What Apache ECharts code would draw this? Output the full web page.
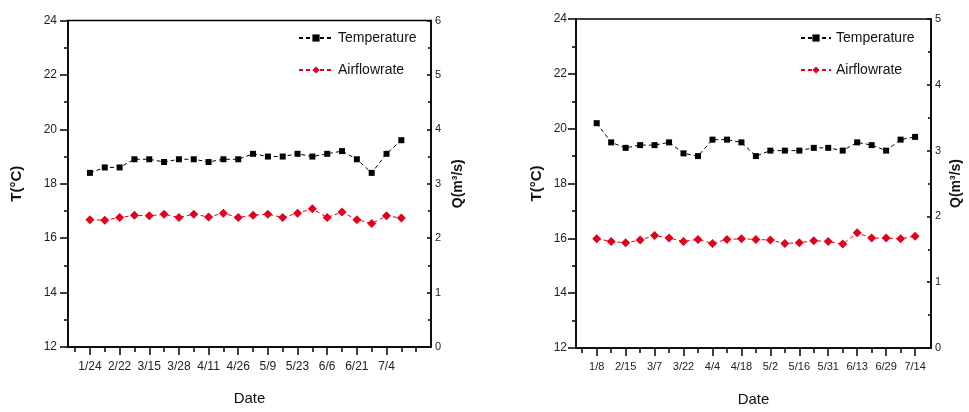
<!DOCTYPE html>
<html>
<head>
<meta charset="utf-8">
<script src="https://cdn.jsdelivr.net/npm/echarts@6/dist/echarts.min.js"></script>
<style>
html,body{margin:0;padding:0;background:#fff;}
#c{width:969px;height:412px;}
</style>
</head>
<body>
<div id="c"></div>
<script>
// ---- Left panel data ----
const leftTickLabels = ['1/24','2/22','3/15','3/28','4/11','4/26','5/9','5/23','6/6','6/21','7/4'];
const leftTemp = [18.4, 18.6, 18.6, 18.9, 18.9, 18.8, 18.9, 18.9, 18.8, 18.9, 18.9,
                  19.1, 19.0, 19.0, 19.1, 19.0, 19.1, 19.2, 18.9, 18.4, 19.1, 19.6];
const leftFlow = [2.34, 2.33, 2.38, 2.42, 2.41, 2.44, 2.38, 2.44, 2.39, 2.46, 2.38,
                  2.42, 2.44, 2.38, 2.46, 2.54, 2.38, 2.48, 2.34, 2.27, 2.41, 2.37];
// ---- Right panel data ----
const rightTickLabels = ['1/8','2/15','3/7','3/22','4/4','4/18','5/2','5/16','5/31','6/13','6/29','7/14'];
const rightTemp = [20.2, 19.5, 19.3, 19.4, 19.4, 19.5, 19.1, 19.0, 19.6, 19.6, 19.5, 19.0,
                   19.2, 19.2, 19.2, 19.3, 19.3, 19.2, 19.5, 19.4, 19.2, 19.6, 19.7];
const rightFlow = [1.66, 1.62, 1.60, 1.64, 1.71, 1.67, 1.62, 1.65, 1.59, 1.65, 1.66, 1.65,
                   1.64, 1.59, 1.60, 1.63, 1.62, 1.58, 1.75, 1.67, 1.67, 1.66, 1.70];
const tempTicks = [12, 14, 16, 18, 20, 22, 24];
const leftFlowMax = 6;
const rightFlowMax = 5;

const FONT = 'Liberation Sans, Arial, sans-serif';
const RED = '#e3001b';

function pairs(arr){ return arr.map((v,i)=>[i,v]); }
function range(a,b,step){ const r=[]; for(let v=a; v<=b; v+=step) r.push(v); return r; }

function xAxes(gridIndex, min, max, n, labels, fontSize, margin){
  const majors = labels.map((_,k)=>2*k);
  const minors = range(-1, n, 1).filter(v => majors.indexOf(v) < 0);
  return [
    {
      type:'value', gridIndex, min, max, position:'bottom',
      name:'Date', nameLocation:'middle', nameGap:44,
      nameTextStyle:{fontFamily:FONT, fontSize:15, color:'#111'},
      axisLine:{show:true, onZero:false, lineStyle:{color:'#000', width:1.5}},
      axisTick:{show:true, inside:false, length:8, customValues:majors, lineStyle:{color:'#000', width:1.5}},
      axisLabel:{show:true, customValues:majors, margin, fontFamily:FONT, fontSize, color:'#222',
                 formatter:(v)=>labels[Math.round(v/2)] || ''},
      splitLine:{show:false}
    },
    {
      type:'value', gridIndex, min, max, position:'bottom',
      axisLine:{show:false, onZero:false},
      axisTick:{show:true, inside:false, length:5, customValues:minors, lineStyle:{color:'#000', width:1.5}},
      axisLabel:{show:false},
      splitLine:{show:false}
    }
  ];
}

function yAxes(gridIndex, flowMax, tGap, qGap, lblMargin){
  return [
    {
      type:'value', gridIndex, position:'left', min:12, max:24, interval:2,
      name:'T(°C)', nameLocation:'middle', nameGap:tGap, nameRotate:90,
      nameTextStyle:{fontFamily:FONT, fontSize:15, fontWeight:'bold', color:'#111'},
      axisLine:{show:true, onZero:false, lineStyle:{color:'#000', width:1.5}},
      axisTick:{show:true, inside:false, length:8, lineStyle:{color:'#000', width:1.5}},
      minorTick:{show:true, splitNumber:2, length:4, lineStyle:{color:'#000', width:1.5}},
      axisLabel:{margin:lblMargin, fontFamily:FONT, fontSize:12, color:'#222', formatter:(v)=> tempTicks.indexOf(v)>=0 ? String(v) : ''},
      splitLine:{show:false}
    },
    {
      type:'value', gridIndex, position:'right', min:0, max:flowMax, interval:1,
      name:'Q(m³/s)', nameLocation:'middle', nameGap:qGap, nameRotate:90,
      nameTextStyle:{fontFamily:FONT, fontSize:14, fontWeight:'bold', color:'#111'},
      axisLine:{show:true, onZero:false, lineStyle:{color:'#000', width:1.5}},
      axisTick:{show:true, inside:true, length:4, lineStyle:{color:'#000', width:1.5}},
      minorTick:{show:true, splitNumber:2, length:3, lineStyle:{color:'#000', width:1.5}},
      axisLabel:{margin:4, fontFamily:FONT, fontSize:11, color:'#222'},
      splitLine:{show:false}
    }
  ];
}

function seriesFor(xIdx, yBase, temp, flow){
  return [
    {
      name:'Temperature', type:'line', xAxisIndex:xIdx, yAxisIndex:yBase,
      data:pairs(temp), symbol:'rect', symbolSize:6,
      itemStyle:{color:'#000'}, lineStyle:{color:'#000', width:1, type:[4,3]},
      animation:false
    },
    {
      name:'Airflowrate', type:'line', xAxisIndex:xIdx, yAxisIndex:yBase+1,
      data:pairs(flow), symbol:'diamond', symbolSize:9,
      itemStyle:{color:RED}, lineStyle:{color:RED, width:1, type:[4,3]},
      animation:false
    }
  ];
}

const chart = echarts.init(document.getElementById('c'), null, {renderer:'canvas'});
const legendCommon = {
  orient:'vertical', itemHeight:9, itemGap:18,
  textStyle:{fontFamily:FONT, fontSize:14, color:'#111'},
  data:['Temperature','Airflowrate']
};
chart.setOption({
  backgroundColor:'#fff',
  animation:false,
  grid:[
    {left:68, top:20.5, width:363, height:326.5, show:true, borderColor:'#000', borderWidth:1.5, containLabel:false},
    {left:576, top:19, width:355, height:331, show:true, borderColor:'#000', borderWidth:1.5, containLabel:false}
  ],
  legend:[
    Object.assign({left:293, top:26, itemWidth:34}, legendCommon),
    Object.assign({left:795, top:26, itemWidth:30}, legendCommon)
  ],
  xAxis: xAxes(0, -1.48, 23.0, 22, leftTickLabels, 12, 14)
          .concat(xAxes(1, -1.43, 23.1, 22, rightTickLabels, 11, 13)),
  yAxis: yAxes(0, leftFlowMax, 44, 20, 11).concat(yAxes(1, rightFlowMax, 32, 18, 9)),
  series: seriesFor(0, 0, leftTemp, leftFlow).concat(seriesFor(2, 2, rightTemp, rightFlow))
});
</script>
</body>
</html>
